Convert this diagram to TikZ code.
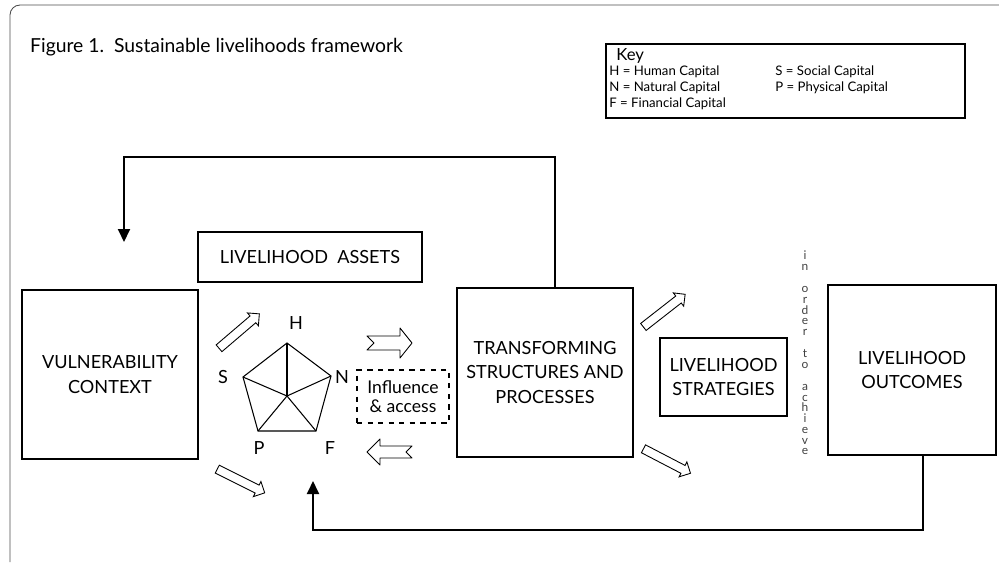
\documentclass[tikz,border=0pt]{standalone}
\usepackage{fontspec}
\setmainfont{Lato}
\usetikzlibrary{arrows.meta,shapes.arrows,positioning,calc}

\tikzset{
  box/.style={draw, line width=0.8pt, align=center, font=\fontsize{10.3}{14.2}\selectfont},
  feed/.style={line width=1.1pt, -{Triangle[length=2.6mm,width=2.4mm]}},
  hollow/.style={single arrow, draw, line width=0.5pt, inner xsep=0pt, inner ysep=0.8mm,
    minimum width=3.2mm, single arrow head extend=0.8mm, minimum height=10.6mm},
  ribbon/.style={draw, line width=0.5pt, line join=round},
  penta/.style={line width=0.6pt},
  caplab/.style={font=\fontsize{10.3}{12}\selectfont},
  keytxt/.style={anchor=west, font=\fontsize{7.5}{9}\selectfont, inner sep=0pt}
}

\begin{document}
\begin{tikzpicture}[x=0.2mm,y=-0.2mm]
  \useasboundingbox (0,0) rectangle (999,562);

  % frame and title
  \draw[black!70, line width=0.5pt, rounded corners=2mm] (10,562) -- (10,5) -- (999,5);
  \node[anchor=west, font=\fontsize{11}{13}\selectfont] (title) at (24,47)
    {Figure 1.\ \ Sustainable livelihoods framework};

  % key
  \node[draw, line width=0.6pt, minimum width=71.8mm, minimum height=14.8mm] (key) at (785.5,81) {};
  \node[anchor=west, font=\fontsize{9.5}{11}\selectfont, inner sep=0pt] (keyhead) at (616,56) {Key};
  \node[keytxt] (kH) at (609,72) {H = Human Capital};
  \node[keytxt] (kN) at (609,88) {N = Natural Capital};
  \node[keytxt] (kF) at (609,104) {F = Financial Capital};
  \node[keytxt] (kS) at (775,72) {S = Social Capital};
  \node[keytxt] (kP) at (775,88) {P = Physical Capital};

  % main boxes
  \node[box, minimum width=44.8mm, minimum height=10mm] (assets) at (310,257) {LIVELIHOOD\ \ ASSETS};
  \node[box, minimum width=35.2mm, minimum height=33.8mm] (vc) at (110,374.5) {VULNERABILITY\\CONTEXT};
  \node[box, minimum width=35.2mm, minimum height=33.8mm] (tsp) at (545,372.5) {TRANSFORMING\\STRUCTURES AND\\PROCESSES};
  \node[box, minimum width=25.4mm, minimum height=15.6mm] (ls) at (723.5,377) {LIVELIHOOD\\STRATEGIES};
  \node[box, minimum width=33.6mm, minimum height=34mm] (lo) at (912,370) {LIVELIHOOD\\OUTCOMES};
  \node[box, dashed, line width=0.7pt, minimum width=18.4mm, minimum height=10.6mm,
    font=\fontsize{10}{11}\selectfont, inner sep=1pt] (infl) at (403,396.5) {Influence\\\& access};

  % in order to achieve
  \node[align=center, inner sep=0pt, text=black!75, font=\fontsize{6.8}{6.1}\selectfont] (aim) at (805,353)
    {i\\n\\[6.5pt]o\\r\\d\\e\\r\\[6.5pt]t\\o\\[6.5pt]a\\c\\h\\i\\e\\v\\e};

  % asset pentagon
  \coordinate (pH) at (287,343);
  \coordinate (pN) at (331,376);
  \coordinate (pF) at (316,431);
  \coordinate (pP) at (258,431);
  \coordinate (pS) at (243,377);
  \coordinate (pc) at (287,396);
  \draw[penta] (pH) -- (pN) -- (pF) -- (pP) -- (pS) -- cycle;
  \foreach \v in {pH,pN,pF,pP,pS}
    \draw[penta] (pc) -- (\v);
  \node[caplab] (lH) at (296,323) {H};
  \node[caplab] (lS) at (223,377) {S};
  \node[caplab] (lN) at (342,377) {N};
  \node[caplab] (lP) at (259,448) {P};
  \node[caplab] (lF) at (330,448) {F};

  % hollow arrows
  \node[hollow, rotate=40.5] (a1) at (237.5,332.5) {};
  \node[hollow, rotate=-26.6] (a2) at (239,480) {};
  \node[hollow, rotate=38] (a3) at (662.5,312) {};
  \node[hollow, rotate=-27.5] (a4) at (665,460) {};

  % notched arrows
  \draw[ribbon] (367,336) -- (400,336) -- (400,328) -- (412,343) -- (400,358) -- (400,350)
    -- (367,350) -- (374,343) -- cycle;
  \draw[ribbon] (412,446) -- (380,446) -- (380,439) -- (367,452) -- (380,465) -- (380,458)
    -- (412,458) -- (406,452) -- cycle;

  % feedback loops
  \coordinate (fbtop) at (124,157);
  \coordinate (fbin) at (124,242);
  \draw[feed] ([xshift=2mm]tsp.north) |- (fbtop) -- (fbin);
  \coordinate (fbbot) at (313,530);
  \coordinate (fbup) at (313,481);
  \draw[feed] ([xshift=2.2mm]lo.south) |- (fbbot) -- (fbup);
\end{tikzpicture}
\end{document}
